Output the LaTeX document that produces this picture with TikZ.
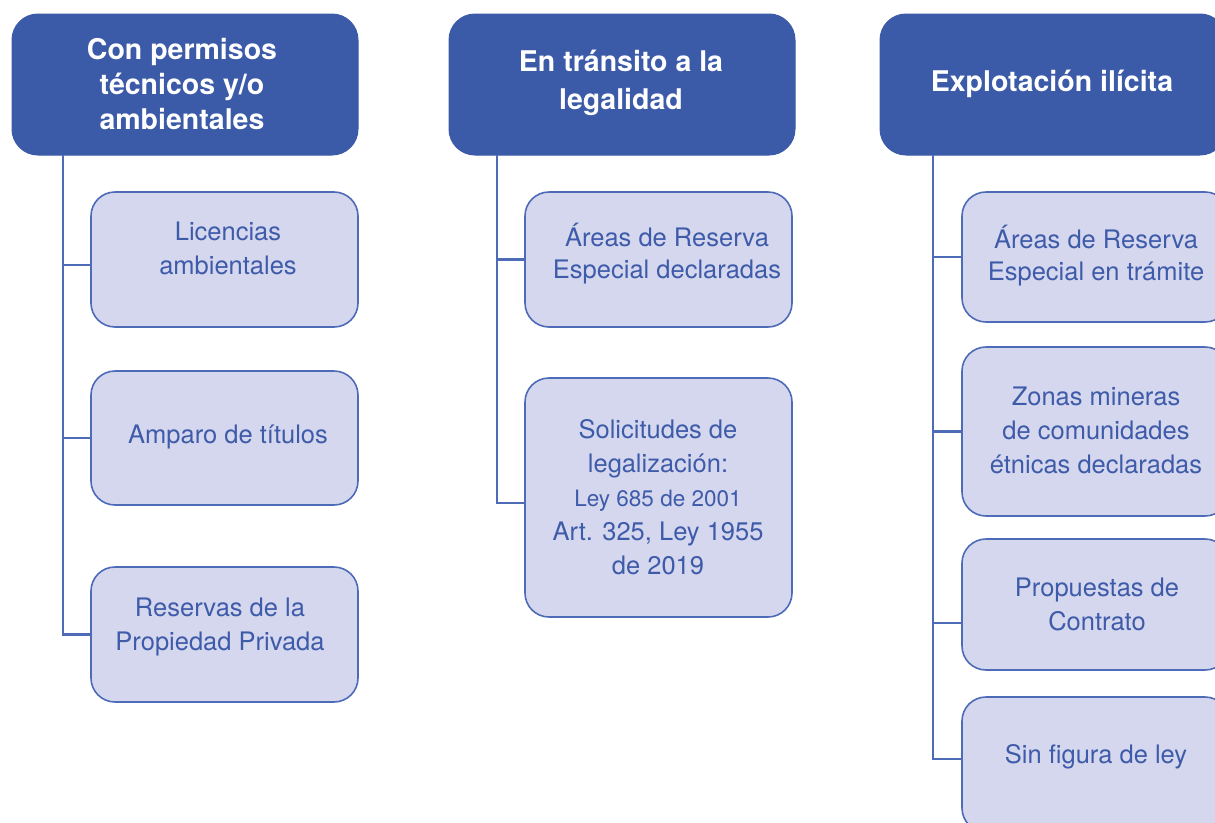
\documentclass[tikz,border=0pt]{standalone}
\usepackage{fontspec}
\setmainfont{TeX Gyre Heros}
\definecolor{hblue}{HTML}{3B5AA8}
\definecolor{cfill}{HTML}{D4D7EE}
\definecolor{cline}{HTML}{4E6BB8}
\definecolor{ctxt}{HTML}{3E5BA9}
\tikzset{
  header/.style={draw=hblue, fill=hblue, rounded corners=26pt, line width=1pt},
  childbox/.style={draw=cline, fill=cfill, rounded corners=24pt, line width=1.6pt},
  htext/.style={text=white, font=\fontsize{28.5}{35}\selectfont\bfseries, align=center},
  ctext/.style={text=ctxt, font=\fontsize{25.5}{34}\selectfont, align=center},
  conn/.style={draw=cline, line width=2.4pt}
}
\begin{document}
\begin{tikzpicture}[x=1pt,y=-1pt]
\useasboundingbox (0,0) rectangle (1215,822);
\clip (0,0) rectangle (1215,822);
% headers
\node[header, minimum width=346pt, minimum height=141pt] (h1) at (185,84.5) {};
\node[htext] (h1t) at (182,84) {Con permisos\\técnicos y/o\\ambientales};
\node[header, minimum width=346pt, minimum height=141pt] (h2) at (622,84.5) {};
\node[htext, font=\fontsize{28.5}{38}\selectfont\bfseries] (h2t) at (621,83) {En tránsito a la\\legalidad};
\node[header, minimum width=346pt, minimum height=141pt] (h3) at (1053,84.5) {};
\node[htext] (h3t) at (1052,84) {Explotación ilícita};
% column 1
\node[childbox, minimum width=267pt, minimum height=135pt] (c11) at (224.5,259.5) {};
\node[ctext] (c11t) at (228,248) {Licencias\\ambientales};
\node[childbox, minimum width=267pt, minimum height=134pt] (c12) at (224.5,438) {};
\node[ctext] (c12t) at (228,437) {Amparo de títulos};
\node[childbox, minimum width=267pt, minimum height=135pt] (c13) at (224.5,634.5) {};
\node[ctext] (c13t) at (220,627) {Reservas de la\\Propiedad Privada};
% column 2
\node[childbox, minimum width=267pt, minimum height=135pt] (c21) at (658.5,259.5) {};
\node[ctext, font=\fontsize{25.5}{32}\selectfont] (c21t) at (667,254) {Áreas de Reserva\\Especial declaradas};
\node[childbox, minimum width=267pt, minimum height=239pt] (c22) at (658.5,497.5) {};
\node[ctext] (c22t) at (658,497) {Solicitudes de\\legalización:\\{\fontsize{22.5}{33}\selectfont Ley 685 de 2001}\\Art. 325, Ley 1955\\de 2019};
% column 3
\node[childbox, minimum width=267pt, minimum height=130pt] (c31) at (1095.5,257) {};
\node[ctext, font=\fontsize{25.5}{32}\selectfont] (c31t) at (1096,256) {Áreas de Reserva\\Especial en trámite};
\node[childbox, minimum width=267pt, minimum height=169pt] (c32) at (1095.5,431.5) {};
\node[ctext] (c32t) at (1096,430) {Zonas mineras\\de comunidades\\étnicas declaradas};
\node[childbox, minimum width=267pt, minimum height=131pt] (c33) at (1095.5,604.5) {};
\node[ctext] (c33t) at (1097,604) {Propuestas de\\Contrato};
\node[childbox, minimum width=267pt, minimum height=135pt] (c34) at (1095.5,764.5) {};
\node[ctext] (c34t) at (1096,757) {Sin figura de ley};
% trunk coordinates
\coordinate (t1) at (63,155);
\coordinate (t2) at (497,155);
\coordinate (t3) at (933,155);
% connectors column 1
\draw[conn] (t1) |- ([yshift=-5.5pt]c11.west);
\draw[conn] (t1) |- (c12.west);
\draw[conn] (t1) |- (c13.west);
% column 2
\draw[conn] (t2) |- (c21.west);
\draw[conn] (t2) |- ([yshift=-5.5pt]c22.west);
% column 3
\draw[conn] (t3) |- (c31.west);
\draw[conn] (t3) |- (c32.west);
\draw[conn] (t3) |- ([yshift=-18.5pt]c33.west);
\draw[conn] (t3) |- ([yshift=5.5pt]c34.west);
\end{tikzpicture}
\end{document}
